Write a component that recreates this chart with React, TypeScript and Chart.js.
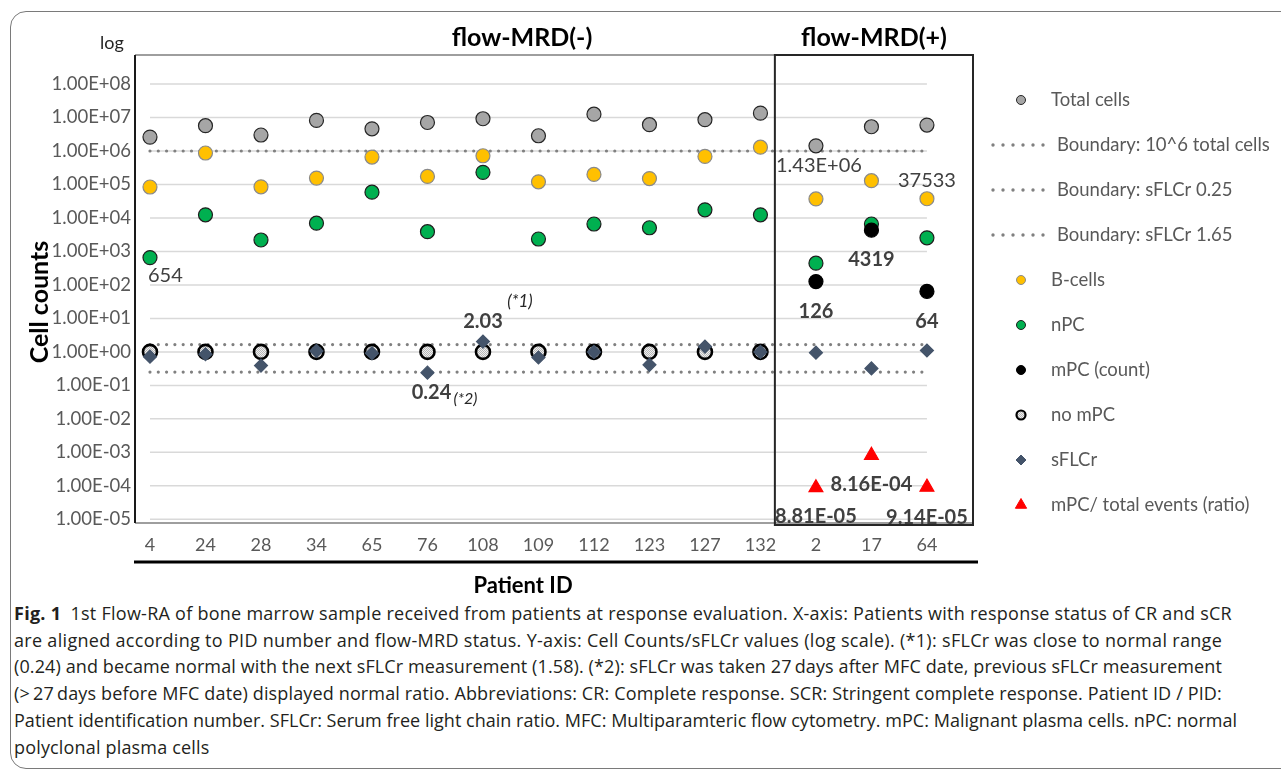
import React, { useEffect, useLayoutEffect, useRef } from 'react';
import { Chart, registerables } from 'chart.js';

Chart.register(...registerables);

// ---------------- data ----------------
const patientIds = ['4', '24', '28', '34', '65', '76', '108', '109', '112', '123', '127', '132', '2', '17', '64'];
const totalCells = [2.6e6, 5.7e6, 3.0e6, 8.2e6, 4.6e6, 7.1e6, 9.2e6, 2.85e6, 1.26e7, 6.1e6, 8.6e6, 1.35e7, 1.43e6, 5.3e6, 5.96e6];
const bCells = [8.4e4, 8.7e5, 8.5e4, 1.55e5, 6.6e5, 1.74e5, 7.2e5, 1.2e5, 2.0e5, 1.5e5, 6.9e5, 1.3e6, 3.7e4, 1.3e5, 37533];
const nPC = [654, 1.24e4, 2.2e3, 7.0e3, 5.9e4, 3.9e3, 2.3e5, 2.35e3, 6.6e3, 5.1e3, 1.75e4, 1.24e4, 447, 6.6e3, 2.55e3];
const mPCCount = [null, null, null, null, null, null, null, null, null, null, null, null, 126, 4319, 64];
const noMPC = [1, 1, 1, 1, 1, 1, 1, 1, 1, 1, 1, 1, null, null, null];
const sFLCr = [0.72, 0.85, 0.39, 1.07, 0.91, 0.24, 2.03, 0.68, 1.0, 0.41, 1.44, 1.0, 0.95, 0.32, 1.1];
const mPCRatio = [null, null, null, null, null, null, null, null, null, null, null, null, 8.81e-5, 8.16e-4, 9.14e-5];
const boundaryTotalCells = 1e6;
const boundarySFLCrLow = 0.25;
const boundarySFLCrHigh = 1.65;
const yTickExponents = [-5, -4, -3, -2, -1, 0, 1, 2, 3, 4, 5, 6, 7, 8];
const groupTitles = ['flow-MRD(-)', 'flow-MRD(+)'];
const seriesNames = [
  'Total cells',
  'Boundary: 10^6 total cells',
  'Boundary: sFLCr 0.25',
  'Boundary: sFLCr 1.65',
  'B-cells',
  'nPC',
  'mPC (count)',
  'no mPC',
  'sFLCr',
  'mPC/ total events (ratio)',
];
const captionLead = 'Fig. 1';
const captionLines = [
  '1st Flow-RA of bone marrow sample received from patients at response evaluation. X-axis: Patients with response status of CR and sCR',
  'are aligned according to PID number and flow-MRD status. Y-axis: Cell Counts/sFLCr values (log scale). (*1): sFLCr was close to normal range',
  '(0.24) and became normal with the next sFLCr measurement (1.58). (*2): sFLCr was taken 27\u2009days after MFC date, previous sFLCr measurement',
  '(>\u200927\u2009days before MFC date) displayed normal ratio. Abbreviations: CR: Complete response. SCR: Stringent complete response. Patient ID / PID:',
  'Patient identification number. SFLCr: Serum free light chain ratio. MFC: Multiparamteric flow cytometry. mPC: Malignant plasma cells. nPC: normal',
  'polyclonal plasma cells',
];

// ---------------- helpers ----------------
const FONT = 'Lato, "Open Sans", "DejaVu Sans", sans-serif';

function sci(v: number): string {
  const [m, e] = v.toExponential(2).split('e');
  const n = parseInt(e, 10);
  return m + 'E' + (n < 0 ? '-' : '+') + String(Math.abs(n)).padStart(2, '0');
}

function toXY(values: (number | null)[]) {
  const out: { x: number; y: number }[] = [];
  values.forEach((v, i) => {
    if (v !== null && v !== undefined) out.push({ x: i, y: v });
  });
  return out;
}

function boundaryLine(v: number) {
  return [
    { x: 0, y: v },
    { x: patientIds.length - 1, y: v },
  ];
}

const seriesByName: Record<string, (number | null)[]> = {
  'Total cells': totalCells,
  'B-cells': bCells,
  nPC: nPC,
  'mPC (count)': mPCCount,
  sFLCr: sFLCr,
  'mPC/ total events (ratio)': mPCRatio,
};

type Fmt = 'int' | 'sci' | 'fix2';
const fmt = (v: number, f: Fmt) => (f === 'int' ? String(Math.round(v)) : f === 'sci' ? sci(v) : v.toFixed(2));

// label styling / offsets (presentation only)
const valueLabelStyle: { s: string; i: number; f: Fmt; bold: boolean; dx: number; dy: number; align: CanvasTextAlign }[] = [
  { s: 'nPC', i: 0, f: 'int', bold: false, dx: -2, dy: 18, align: 'left' },
  { s: 'sFLCr', i: 6, f: 'fix2', bold: true, dx: 0, dy: -20, align: 'center' },
  { s: 'sFLCr', i: 5, f: 'fix2', bold: true, dx: 4, dy: 20, align: 'center' },
  { s: 'Total cells', i: 12, f: 'sci', bold: false, dx: 3, dy: 20, align: 'center' },
  { s: 'B-cells', i: 14, f: 'int', bold: false, dx: 0, dy: -18, align: 'center' },
  { s: 'mPC (count)', i: 13, f: 'int', bold: true, dx: 0, dy: 29, align: 'center' },
  { s: 'mPC (count)', i: 12, f: 'int', bold: true, dx: 0, dy: 30, align: 'center' },
  { s: 'mPC (count)', i: 14, f: 'int', bold: true, dx: 0, dy: 30, align: 'center' },
  { s: 'mPC/ total events (ratio)', i: 13, f: 'sci', bold: true, dx: 0, dy: 29, align: 'center' },
  { s: 'mPC/ total events (ratio)', i: 12, f: 'sci', bold: true, dx: 0, dy: 29, align: 'center' },
  { s: 'mPC/ total events (ratio)', i: 14, f: 'sci', bold: true, dx: 0, dy: 30, align: 'center' },
];
const footnoteStyle = [
  { s: 'sFLCr', i: 6, text: '(*1)', dx: 37, dy: -40, size: 17 },
  { s: 'sFLCr', i: 5, text: '(*2)', dx: 38, dy: 26, size: 16 },
];

const MRD_SPLIT = 11.26; // separator position between groups (axis units)

function makeHatch(): CanvasPattern | string {
  const c = document.createElement('canvas');
  c.width = 4;
  c.height = 4;
  const g = c.getContext('2d');
  if (!g) return '#dddddd';
  g.fillStyle = '#efefef';
  g.fillRect(0, 0, 4, 4);
  g.fillStyle = '#b8b8b8';
  g.fillRect(0, 0, 1, 1);
  g.fillRect(2, 0, 1, 1);
  g.fillRect(1, 1, 1, 1);
  g.fillRect(3, 1, 1, 1);
  g.fillRect(0, 2, 1, 1);
  g.fillRect(2, 2, 1, 1);
  g.fillRect(1, 3, 1, 1);
  g.fillRect(3, 3, 1, 1);
  const p = g.createPattern(c, 'repeat');
  return p || '#dddddd';
}

const decorPlugin = {
  id: 'decor',
  beforeDatasetsDraw(chart: any) {
    const { ctx, chartArea: a, scales } = chart;
    const x = scales.x;
    const y = scales.y;
    ctx.save();
    ctx.strokeStyle = '#d9d9d9';
    ctx.lineWidth = 1.5;
    const x0 = x.getPixelForValue(0);
    const x1 = x.getPixelForValue(patientIds.length - 1);
    for (const e of yTickExponents) {
      const py = y.getPixelForValue(Math.pow(10, e));
      ctx.beginPath();
      ctx.moveTo(x0, py);
      ctx.lineTo(x1, py);
      ctx.stroke();
    }
    // plot frame
    ctx.strokeStyle = '#7f7f7f';
    ctx.lineWidth = 1.5;
    ctx.beginPath();
    ctx.moveTo(a.left, a.top);
    ctx.lineTo(a.right, a.top);
    ctx.moveTo(a.left, a.bottom);
    ctx.lineTo(a.right, a.bottom);
    ctx.stroke();
    ctx.restore();
  },
  afterDatasetsDraw(chart: any) {
    const { ctx, chartArea: a, scales } = chart;
    const x = scales.x;
    const y = scales.y;
    ctx.save();
    // left axis line
    ctx.strokeStyle = '#1a1a1a';
    ctx.lineWidth = 2;
    ctx.beginPath();
    ctx.moveTo(a.left, a.top);
    ctx.lineTo(a.left, a.bottom);
    ctx.stroke();
    // MRD(+) box
    const sx = x.getPixelForValue(MRD_SPLIT);
    ctx.strokeStyle = '#262626';
    ctx.lineWidth = 2;
    ctx.strokeRect(sx, a.top, a.right - sx, a.bottom + 2 - a.top);
    // thick rule below tick labels
    ctx.strokeStyle = '#000';
    ctx.lineWidth = 3;
    ctx.beginPath();
    ctx.moveTo(a.left - 1, x.bottom);
    ctx.lineTo(a.right + 5, x.bottom);
    ctx.stroke();

    // value labels
    ctx.textBaseline = 'middle';
    ctx.fillStyle = '#404040';
    for (const L of valueLabelStyle) {
      const v = seriesByName[L.s][L.i] as number;
      const px = x.getPixelForValue(L.i) + L.dx;
      const py = y.getPixelForValue(v) + L.dy;
      ctx.font = (L.bold ? 'bold ' : '') + '20px ' + FONT;
      ctx.textAlign = L.align;
      ctx.fillText(fmt(v, L.f), px, py);
    }
    ctx.fillStyle = '#262626';
    for (const F of footnoteStyle) {
      const v = seriesByName[F.s][F.i] as number;
      ctx.font = 'italic ' + F.size + 'px ' + FONT;
      ctx.textAlign = 'center';
      ctx.fillText(F.text, x.getPixelForValue(F.i) + F.dx, y.getPixelForValue(v) + F.dy);
    }

    // titles
    ctx.fillStyle = '#000';
    ctx.textAlign = 'center';
    ctx.font = 'bold 25px ' + FONT;
    ctx.fillText(groupTitles[0], 522, 38);
    ctx.fillText(groupTitles[1], 874, 38);
    ctx.font = '18px ' + FONT;
    ctx.fillStyle = '#262626';
    ctx.fillText('log', 112, 43);
    ctx.fillStyle = '#000';
    ctx.font = 'bold 22px ' + FONT;
    ctx.fillText('Patient ID', 523, 586);
    ctx.save();
    ctx.translate(40, 302);
    ctx.rotate(-Math.PI / 2);
    ctx.font = 'bold 25px ' + FONT;
    ctx.fillText('Cell counts', 0, 0);
    ctx.restore();

    // legend
    const ds = chart.data.datasets;
    seriesNames.forEach((name, k) => {
      const d = ds.find((q: any) => q.label === name);
      if (!d) return;
      const ly = 100 + 45 * k;
      let tx = 1051;
      if (d.showLine) {
        ctx.fillStyle = '#808080';
        for (let j = 0; j < 6; j++) {
          ctx.beginPath();
          ctx.arc(993 + j * 10, ly, 1.7, 0, Math.PI * 2);
          ctx.fill();
        }
        tx = 1057;
      } else {
        ctx.fillStyle = d.backgroundColor;
        ctx.strokeStyle = d.borderColor;
        ctx.lineWidth = d.label === 'no mPC' ? 2.2 : 1;
        const cx = 1021;
        ctx.beginPath();
        if (d.pointStyle === 'rectRot') {
          const r = 5;
          ctx.moveTo(cx, ly - r);
          ctx.lineTo(cx + r, ly);
          ctx.lineTo(cx, ly + r);
          ctx.lineTo(cx - r, ly);
          ctx.closePath();
        } else if (d.pointStyle === 'triangle') {
          const r = 6.5;
          ctx.moveTo(cx, ly - r);
          ctx.lineTo(cx + r * 0.866, ly + r * 0.5);
          ctx.lineTo(cx - r * 0.866, ly + r * 0.5);
          ctx.closePath();
        } else {
          ctx.arc(cx, ly, 4.5, 0, Math.PI * 2);
        }
        ctx.fill();
        ctx.stroke();
      }
      ctx.fillStyle = '#595959';
      ctx.font = '18.5px ' + FONT;
      ctx.textAlign = 'left';
      ctx.textBaseline = 'middle';
      ctx.fillText(name, tx, ly);
    });
    ctx.restore();
  },
};

const CAPTION_LEFT = 14;
const lineEnds = [1232, 1222, 1222, 1222, 1237];

export default function App() {
  const ref = useRef<HTMLCanvasElement | null>(null);
  const spanRefs = useRef<(HTMLSpanElement | null)[]>([]);

  useLayoutEffect(() => {
    const spacings: number[] = [];
    spanRefs.current.forEach((sp, i) => {
      if (!sp || i >= lineEnds.length) return;
      sp.style.letterSpacing = '0px';
      const w = sp.getBoundingClientRect().width;
      const target = lineEnds[i] - CAPTION_LEFT;
      const n = (sp.textContent || '').length;
      if (n > 1) {
        const ls = (target - w) / n;
        spacings.push(ls);
        sp.style.letterSpacing = ls.toFixed(3) + 'px';
      }
    });
    const last = spanRefs.current[lineEnds.length];
    if (last && spacings.length) {
      const avg = spacings.reduce((p, c) => p + c, 0) / spacings.length;
      last.style.letterSpacing = avg.toFixed(3) + 'px';
    }
  }, []);

  useEffect(() => {
    if (!ref.current) return;
    const hatch = makeHatch();
    const pointDs = (label: string, values: (number | null)[], extra: any) => ({
      label,
      data: toXY(values),
      showLine: false,
      pointRadius: 7,
      pointHoverRadius: 7,
      borderWidth: 1.2,
      ...extra,
    });
    const lineDs = (label: string, v: number, order: number) => ({
      label,
      data: boundaryLine(v),
      showLine: true,
      borderColor: '#808080',
      borderWidth: 3.2,
      borderDash: [0, 8.3],
      borderCapStyle: 'round',
      pointRadius: 0,
      pointHoverRadius: 0,
      fill: false,
      order,
    });
    const chart = new Chart(ref.current, {
      type: 'scatter',
      data: {
        datasets: [
          pointDs(seriesNames[9], mPCRatio, { pointStyle: 'triangle', pointRadius: 8, backgroundColor: '#ff0000', borderColor: '#ff0000', order: 0 }),
          pointDs(seriesNames[8], sFLCr, { pointStyle: 'rectRot', pointRadius: 6.5, backgroundColor: '#44546a', borderColor: '#44546a', order: 1 }),
          pointDs(seriesNames[7], noMPC, { pointStyle: 'circle', pointRadius: 7, borderWidth: 2.6, backgroundColor: hatch, borderColor: '#000', order: 2 }),
          pointDs(seriesNames[6], mPCCount, { pointStyle: 'circle', backgroundColor: '#000000', borderColor: '#000000', order: 3 }),
          pointDs(seriesNames[5], nPC, { pointStyle: 'circle', backgroundColor: '#00b050', borderColor: '#1e1e1e', order: 4 }),
          pointDs(seriesNames[4], bCells, { pointStyle: 'circle', backgroundColor: '#ffc000', borderColor: '#8a8a8a', order: 5 }),
          pointDs(seriesNames[0], totalCells, { pointStyle: 'circle', backgroundColor: '#a6a6a6', borderColor: '#262626', order: 6 }),
          lineDs(seriesNames[1], boundaryTotalCells, 7),
          lineDs(seriesNames[2], boundarySFLCrLow, 8),
          lineDs(seriesNames[3], boundarySFLCrHigh, 9),
        ] as any,
      },
      options: {
        animation: false,
        responsive: false,
        devicePixelRatio: 1,
        layout: { padding: { left: 0, right: 308, top: 55, bottom: 38 } },
        plugins: { legend: { display: false }, tooltip: { enabled: false } },
        events: [],
        scales: {
          x: {
            type: 'linear',
            min: -0.27,
            max: 14.83,
            afterBuildTicks: (s: any) => {
              s.ticks = patientIds.map((_, i) => ({ value: i }));
            },
            afterFit: (s: any) => {
              s.height = 39;
            },
            ticks: {
              autoSkip: false,
              maxRotation: 0,
              includeBounds: false,
              padding: 11,
              color: '#595959',
              font: { family: FONT, size: 18 },
              callback: (v: any) => patientIds[Math.round(Number(v))] ?? '',
            },
            grid: { display: false, drawTicks: false },
            border: { display: false },
          },
          y: {
            type: 'logarithmic',
            min: Math.pow(10, -5.11),
            max: Math.pow(10, 8.867),
            afterBuildTicks: (s: any) => {
              s.ticks = yTickExponents.map((e) => ({ value: Math.pow(10, e) }));
            },
            afterFit: (s: any) => {
              s.width = 135;
            },
            ticks: {
              autoSkip: false,
              padding: 4,
              color: '#595959',
              font: { family: FONT, size: 18.5 },
              callback: (v: any) => sci(Number(v)),
            },
            grid: { display: false, drawTicks: false },
            border: { display: false },
          },
        },
      } as any,
      plugins: [decorPlugin as any],
    });
    return () => chart.destroy();
  }, []);

  const captionFont = '"Open Sans", "Noto Sans", sans-serif';

  return (
    <div style={{ position: 'absolute', left: 0, top: 0, width: 1281, height: 772, overflow: 'hidden', background: '#fff' }}>
      <div
        style={{
          position: 'absolute',
          left: 10,
          top: 11,
          width: 1300,
          height: 758,
          border: '1.5px solid #7a7a7a',
          borderRadius: 16,
          boxSizing: 'border-box',
        }}
      />
      <canvas ref={ref} width={1281} height={600} style={{ position: 'absolute', left: 0, top: 0, width: 1281, height: 600 }} />
      <div
        style={{
          position: 'absolute',
          left: CAPTION_LEFT,
          top: 600,
          fontFamily: captionFont,
          fontSize: 18,
          lineHeight: '26.7px',
          color: '#231f20',
          whiteSpace: 'nowrap',
        }}
      >
        {captionLines.map((t, i) => (
          <div key={i}>
            <span
              ref={(el) => {
                spanRefs.current[i] = el;
              }}
            >
              {i === 0 ? (
                <>
                  <b>{captionLead}</b>
                  {'\u2002'}
                  {t}
                </>
              ) : (
                t
              )}
            </span>
          </div>
        ))}
      </div>
    </div>
  );
}
